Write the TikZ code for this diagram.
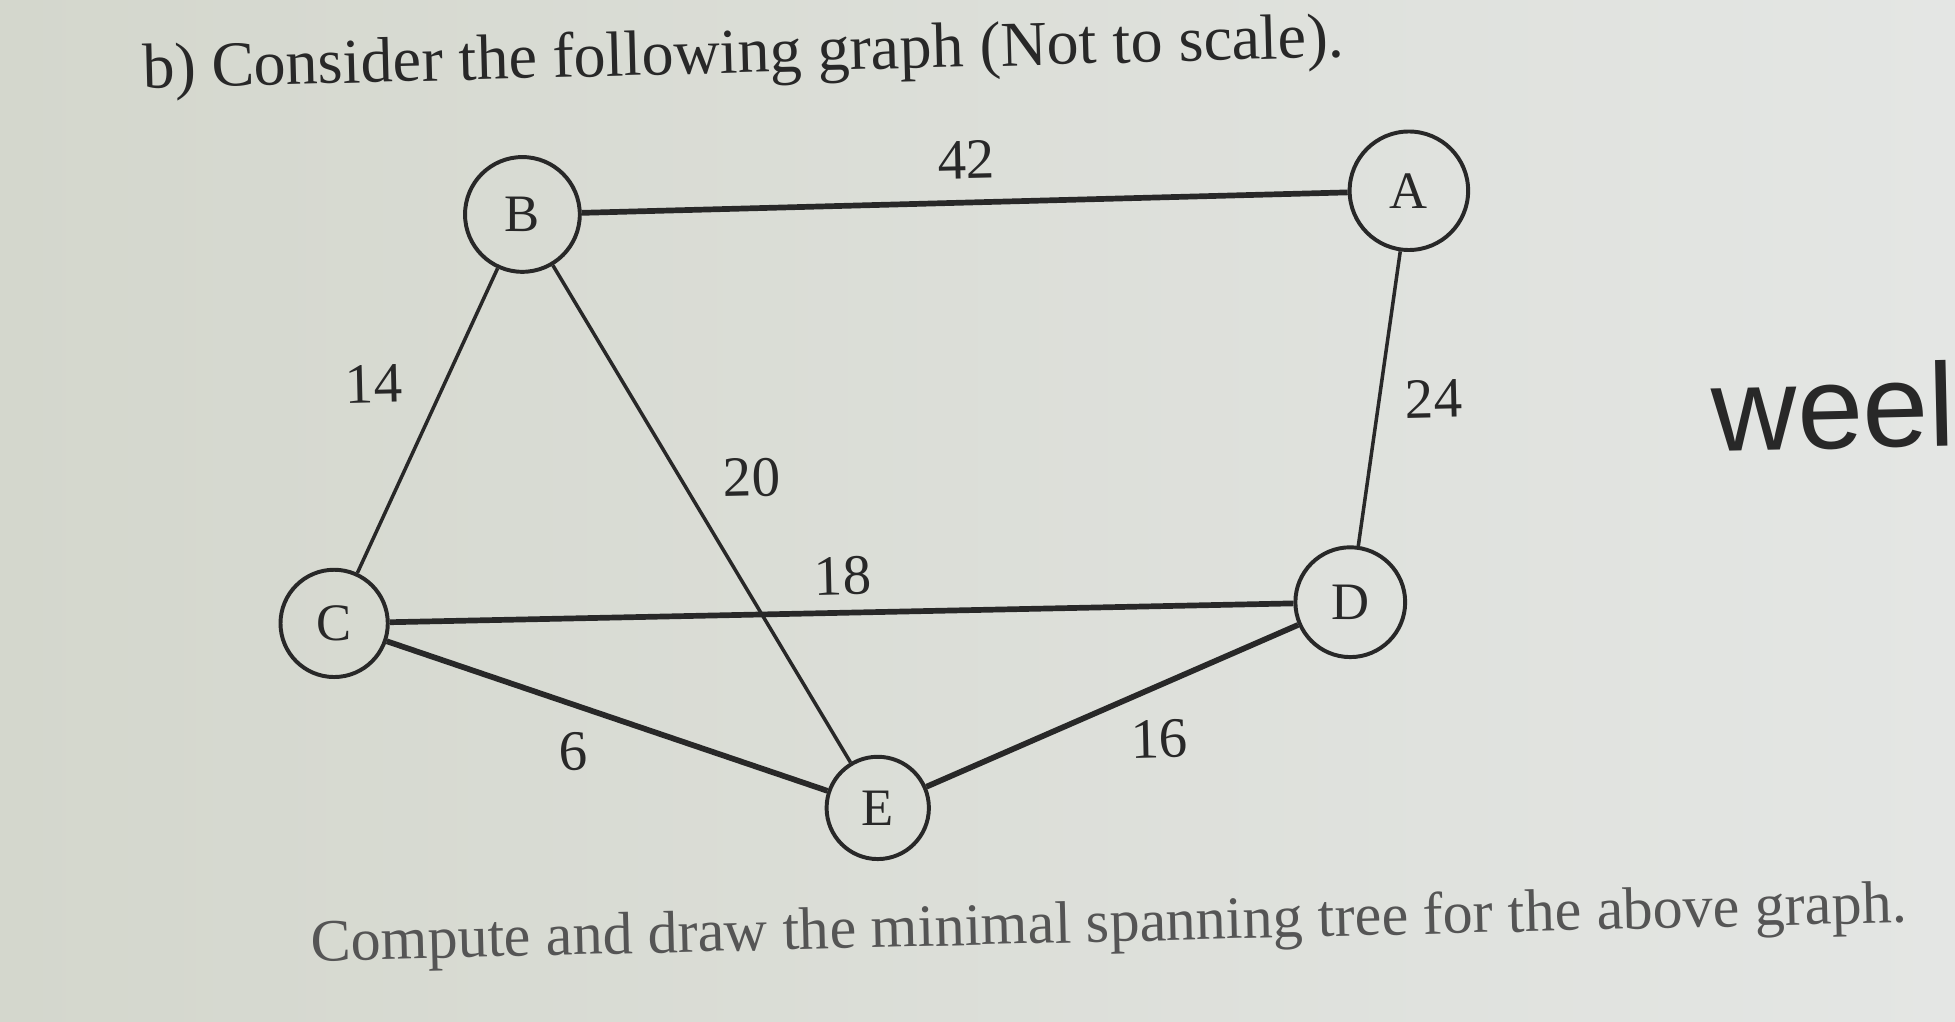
\documentclass[tikz,border=0pt]{standalone}
\usepackage{fontspec}
\setmainfont{Liberation Serif}
\newfontfamily\screenfont{Liberation Sans}
\definecolor{paper}{RGB}{212,215,205}
\definecolor{paperlight}{RGB}{228,230,228}
\definecolor{ink}{RGB}{40,40,40}
\definecolor{greyink}{RGB}{85,85,85}
\begin{document}
\begin{tikzpicture}[x={(0.01cm,0)}, y={(0,-0.01cm)},
  vertex/.style={draw=ink, circle, line width=0.9pt, minimum size=0.9cm,
    inner sep=0pt, font=\fontsize{12}{12}\selectfont, text=ink},
  weight/.style={font=\fontsize{13}{13}\selectfont, text=ink, rotate=1.3},
  heavy/.style={draw=ink, line width=1.3pt},
  light/.style={draw=ink, line width=0.8pt}]

  %% photo background
  \shade[left color=paper, right color=paperlight] (0,0) rectangle (1568,819);
  \useasboundingbox (0,0) rectangle (1568,819);

  \node[anchor=base west, inner sep=0pt, rotate=1.5, text=ink,
    font=\fontsize{14.6}{14.6}\selectfont] (title)
    at (114,71) {b) Consider the following graph (Not to scale).};

  %% vertices
  \node[vertex, minimum size=0.92cm] (B) at (419,172) {B};
  \node[vertex, minimum size=0.95cm] (A) at (1130,153) {A};
  \node[vertex, minimum size=0.86cm] (C) at (268,500) {C};
  \node[vertex, minimum size=0.88cm] (D) at (1083,483) {D};
  \node[vertex, minimum size=0.82cm] (E) at (704,648) {E};

  %% edges
  \draw[heavy] (B) -- (A);
  \draw[light] (B) -- (C);
  \draw[light] (B) -- (E);
  \draw[light] (A) -- (D);
  \draw[heavy] (C) -- (D);
  \draw[heavy] (C) -- (E);
  \draw[heavy] (E) -- (D);

  %% weights
  \node[weight] (w42) at (775,128) {42};
  \node[weight] (w14) at (300,308) {14};
  \node[weight] (w20) at (603,383) {20};
  \node[weight] (w24) at (1150,320) {24};
  \node[weight] (w18) at (676,462) {18};
  \node[weight] (w6)  at (460,603) {6};
  \node[weight] (w16) at (930,593) {16};

  \node[anchor=base west, inner sep=0pt, rotate=1.4, text=greyink,
    font=\fontsize{13.7}{13.7}\selectfont] (task)
    at (249,771) {Compute and draw the minimal spanning tree for the above graph.};

  \node[anchor=base west, inner sep=0pt, rotate=1.3, text=ink,
    font=\screenfont\fontsize{27}{27}\selectfont] (cut)
    at (1373,362) {weel};
\end{tikzpicture}
\end{document}
